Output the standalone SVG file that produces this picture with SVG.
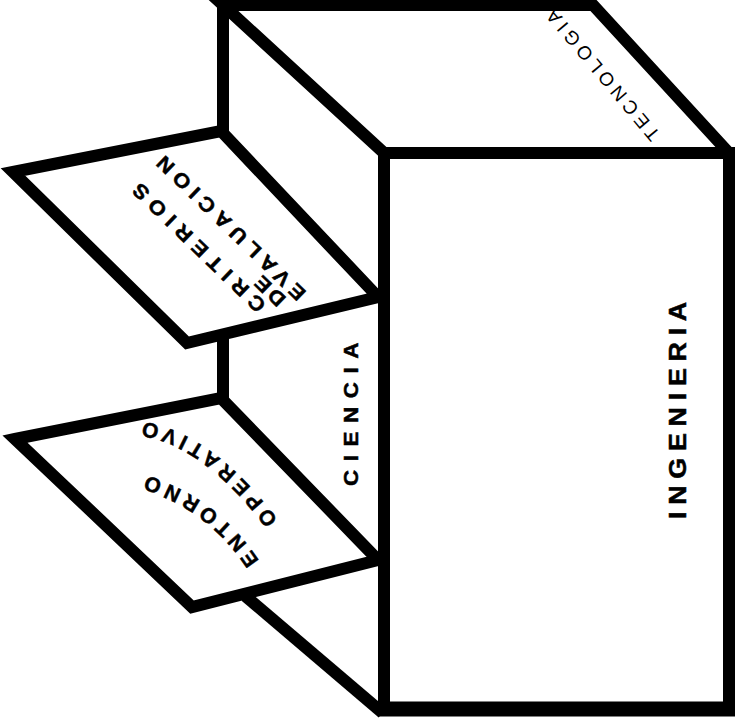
<svg xmlns="http://www.w3.org/2000/svg" width="735" height="725" viewBox="0 0 735 725">
<style>
.ln{fill:none;stroke:#000;stroke-width:12;stroke-linejoin:miter;stroke-linecap:square}
.fc{fill:#fff;stroke:#000;stroke-width:12;stroke-linejoin:miter}
.t{font-family:"Liberation Sans",Arial,sans-serif;fill:#000}
.b{font-weight:bold;stroke:#000;stroke-width:0.5}
</style>
<defs>
<path id="pEnt" d="M259,561 Q220,500 149,476"/>
<path id="pOpe" d="M278,520 Q210,430 139,421"/>
</defs>
<rect width="735" height="725" fill="#fff"/>
<g id="box">
<polygon class="fc" points="223,5 593,5 729,153 384,153"/>
<line class="ln" x1="223" y1="5" x2="223" y2="400"/>
<line class="ln" x1="250" y1="600" x2="378" y2="709"/>
<rect class="fc" x="384" y="153" width="345" height="556"/>
<line x1="378" y1="709" x2="735" y2="709" stroke="#000" stroke-width="15"/>
<text class="t" font-size="19" transform="translate(661,134) rotate(230)" textLength="165" lengthAdjust="spacing">TECNOLOGIA</text>
<text class="t b" font-size="24" transform="translate(686,519) rotate(-90) scale(1.12,1)" textLength="194" lengthAdjust="spacing">INGENIERIA</text>
<text class="t b" font-size="20" transform="translate(358,486) rotate(-90) scale(1.12,1)" textLength="128" lengthAdjust="spacing">CIENCIA</text>
</g>
<g id="criterios">
<polygon class="fc" points="13,172 221,131 378,297 187,343"/>
<text class="t b" font-size="20" transform="translate(267,304) rotate(224) scale(1.1,1)" textLength="160" lengthAdjust="spacing">CRITERIOS</text>
<text class="t b" font-size="20" transform="translate(287,298) rotate(224) scale(1.1,1)" textLength="31" lengthAdjust="spacing">DE</text>
<text class="t b" font-size="20" transform="translate(307,292) rotate(224) scale(1.1,1)" textLength="180" lengthAdjust="spacing">EVALUACION</text>
</g>
<g id="entorno">
<polygon class="fc" points="15,439 221,398 378,560 192,607"/>
<text class="t b" font-size="21" letter-spacing="6.5"><textPath href="#pEnt">ENTORNO</textPath></text>
<text class="t b" font-size="21" letter-spacing="6"><textPath href="#pOpe">OPERATIVO</textPath></text>
</g>
<g id="connectors"></g>
</svg>
